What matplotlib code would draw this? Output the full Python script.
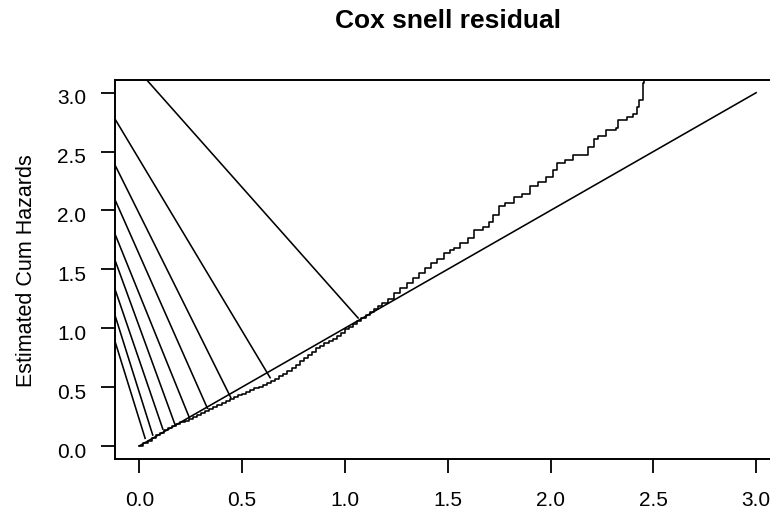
import matplotlib
matplotlib.use("Agg")
import matplotlib.pyplot as plt
import matplotlib.transforms as mtransforms

plt.rcParams['font.family'] = ['Liberation Sans', 'DejaVu Sans']

# Nelson-Aalen estimate of the cox-snell residuals
cs_time = [0.00, 0.02, 0.04, 0.06, 0.08, 0.10, 0.12, 0.14, 0.16, 0.18,
           0.20, 0.22, 0.24, 0.26, 0.28, 0.30, 0.32, 0.34, 0.36, 0.38,
           0.40, 0.42, 0.44, 0.46, 0.48, 0.50, 0.52, 0.54, 0.56, 0.58,
           0.60, 0.62, 0.64, 0.66, 0.68, 0.70, 0.72, 0.74, 0.76, 0.78,
           0.80, 0.82, 0.84, 0.86, 0.88, 0.90, 0.92, 0.94, 0.96, 0.98,
           1.00, 1.02, 1.04, 1.06, 1.08, 1.10, 1.12, 1.14, 1.16, 1.18,
           1.21, 1.24, 1.27, 1.30, 1.33, 1.36, 1.39, 1.42, 1.45, 1.48,
           1.51, 1.53, 1.56, 1.60, 1.63, 1.67, 1.70, 1.72, 1.75, 1.78,
           1.82, 1.86, 1.90, 1.94, 1.98, 2.01, 2.03, 2.07, 2.11, 2.18,
           2.21, 2.23, 2.27, 2.32, 2.33, 2.37, 2.40, 2.42, 2.43, 2.448,
           2.455]
cs_cumhaz = [0.000, 0.022, 0.045, 0.068, 0.090, 0.112, 0.135, 0.152, 0.170, 0.185,
             0.200, 0.214, 0.230, 0.246, 0.262, 0.280, 0.296, 0.312, 0.328, 0.346,
             0.362, 0.380, 0.398, 0.412, 0.428, 0.442, 0.458, 0.474, 0.488, 0.500,
             0.515, 0.530, 0.548, 0.566, 0.592, 0.614, 0.636, 0.660, 0.690, 0.718,
             0.745, 0.776, 0.800, 0.828, 0.850, 0.870, 0.892, 0.912, 0.935, 0.960,
             0.990, 1.012, 1.036, 1.060, 1.088, 1.110, 1.134, 1.160, 1.186, 1.215,
             1.250, 1.298, 1.340, 1.380, 1.425, 1.470, 1.510, 1.550, 1.590, 1.635,
             1.668, 1.680, 1.720, 1.770, 1.830, 1.860, 1.900, 1.960, 2.040, 2.060,
             2.110, 2.140, 2.210, 2.240, 2.280, 2.340, 2.400, 2.430, 2.470, 2.540,
             2.610, 2.630, 2.680, 2.700, 2.770, 2.790, 2.820, 2.880, 2.940, 3.080,
             3.300]

# reference line
ref_x = [0, 3]
ref_y = [0, 3]

# the fan of straight segments: start on the left edge, end near the curve
fan_x0 = -0.12
fan_y0 = [0.896, 1.117, 1.338, 1.585, 1.806, 2.097, 2.391, 2.781, 3.415]
fan_x1 = [0.028, 0.065, 0.114, 0.174, 0.243, 0.331, 0.445, 0.636, 1.064]
fan_y1 = [0.064, 0.092, 0.143, 0.177, 0.240, 0.319, 0.409, 0.579, 1.086]

ticks = [0.0, 0.5, 1.0, 1.5, 2.0, 2.5, 3.0]
tick_labels = ["0.0", "0.5", "1.0", "1.5", "2.0", "2.5", "3.0"]

W, H = 770, 509
fig = plt.figure(figsize=(W / 100, H / 100), dpi=100)
# plot region measured in pixels; the right side runs past the canvas
left, right, top, bottom = 114.7, 780.8, 80.0, 458.7
ax = fig.add_axes([left / W, 1 - bottom / H, (right - left) / W, (bottom - top) / H])

lw = 1.15
ax.step(cs_time, cs_cumhaz, where="post", color="black", lw=lw)
ax.plot(ref_x, ref_y, color="black", lw=lw)
for y0, x1, y1 in zip(fan_y0, fan_x1, fan_y1):
    ax.plot([fan_x0, x1], [y0, y1], color="black", lw=lw)

ax.set_xlim(-0.12, 3.12)
ax.set_ylim(-0.109, 3.108)

ax.set_xticks(ticks)
ax.set_xticklabels(tick_labels)
ax.set_yticks(ticks)
ax.set_yticklabels(tick_labels)
ax.tick_params(axis="both", direction="out", length=10, width=1.3,
               labelsize=15, color="black")
ax.tick_params(axis="x", pad=13)
ax.tick_params(axis="y", pad=10.5)
for sp in ax.spines.values():
    sp.set_linewidth(1.4)

# R puts the horizontal y labels a touch lower than matplotlib does
shift = mtransforms.ScaledTranslation(0, -3 / 72, fig.dpi_scale_trans)
for lab in ax.get_yticklabels():
    lab.set_transform(lab.get_transform() + shift)

fig.text((left + right) / 2 / W, 1 - 27.5 / H, "Cox snell residual",
         ha="center", va="baseline", fontsize=19, fontweight="bold")
fig.text(26.5 / W, 1 - 271 / H, "Estimated Cum Hazards", rotation=90,
         ha="center", va="center", fontsize=15.5)

fig.savefig("out.png", dpi=100)
